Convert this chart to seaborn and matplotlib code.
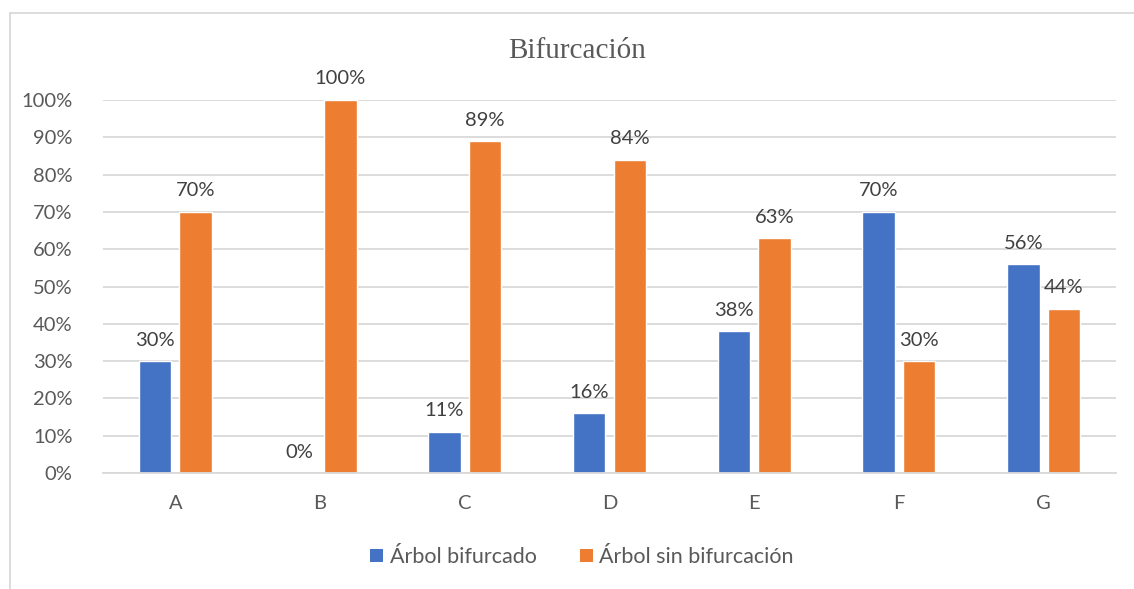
import matplotlib
matplotlib.use("Agg")
import matplotlib.pyplot as plt
import seaborn as sns
import pandas as pd
from matplotlib.lines import Line2D
from matplotlib.patches import Patch

categories = ["A", "B", "C", "D", "E", "F", "G"]
bifurcado = [30, 0, 11, 16, 38, 70, 56]
sin_bifurcacion = [70, 100, 89, 84, 63, 30, 44]
series_names = ["Árbol bifurcado", "Árbol sin bifurcación"]
y_ticks = [0, 10, 20, 30, 40, 50, 60, 70, 80, 90, 100]

colors = ["#4472C4", "#ED7D31"]
grid_color = "#D9D9D9"
text_color = "#595959"
label_color = "#404040"

df = pd.DataFrame({
    "cat": categories * 2,
    "serie": [series_names[0]] * len(categories) + [series_names[1]] * len(categories),
    "valor": bifurcado + sin_bifurcacion,
})

sns.set_theme(style="white")
plt.rcParams["font.family"] = ["Lato", "DejaVu Sans"]

W, H = 1134, 589
fig = plt.figure(figsize=(W / 100, H / 100), dpi=100)
ax = fig.add_axes([103 / W, 1 - 473 / H, (1116 - 103) / W, (473 - 100) / H])

sns.barplot(data=df, x="cat", y="valor", hue="serie", palette=colors,
            width=0.56, gap=0.2, ax=ax, legend=False, saturation=1,
            order=categories, hue_order=series_names)

ax.set_ylim(0, 100)
ax.set_xlim(-0.5, len(categories) - 0.5)
ax.set_yticks(y_ticks)
ax.set_yticklabels([f"{t}%" for t in y_ticks])
ax.yaxis.grid(True, color=grid_color, linewidth=1.3)
ax.set_axisbelow(True)
for side in ["left", "right", "top"]:
    ax.spines[side].set_visible(False)
ax.spines["bottom"].set_color(grid_color)
ax.spines["bottom"].set_linewidth(1.3)
ax.tick_params(axis="both", length=0, labelsize=14.5, colors=text_color)
ax.tick_params(axis="y", pad=22)
ax.tick_params(axis="x", pad=16)
ax.set_xlabel("")
ax.set_ylabel("")

for container in ax.containers:
    ax.bar_label(container, labels=[f"{v:.0f}%" for v in container.datavalues],
                 padding=9, fontsize=14.5, color=label_color)

fig.text(577 / W, 1 - 51 / H, "Bifurcación", ha="center", va="center",
         fontsize=21, color=text_color, family=["Liberation Serif", "DejaVu Serif"])

handles = [Patch(facecolor=c, edgecolor="none") for c in colors]
fig.legend(handles, series_names, loc="center", bbox_to_anchor=(582 / W, 1 - 557 / H),
           ncol=2, frameon=False, fontsize=15.5, handlelength=0.6, handleheight=0.6,
           handletextpad=0.3, columnspacing=2.0, labelcolor=text_color)

# chart frame
fig.add_artist(Line2D([10 / W, 10 / W], [0, 1 - 13 / H], transform=fig.transFigure,
                      color=grid_color, linewidth=1.3))
fig.add_artist(Line2D([10 / W, 1], [1 - 13 / H, 1 - 13 / H], transform=fig.transFigure,
                      color=grid_color, linewidth=1.3))

fig.savefig("out.png", dpi=100, facecolor="white")
